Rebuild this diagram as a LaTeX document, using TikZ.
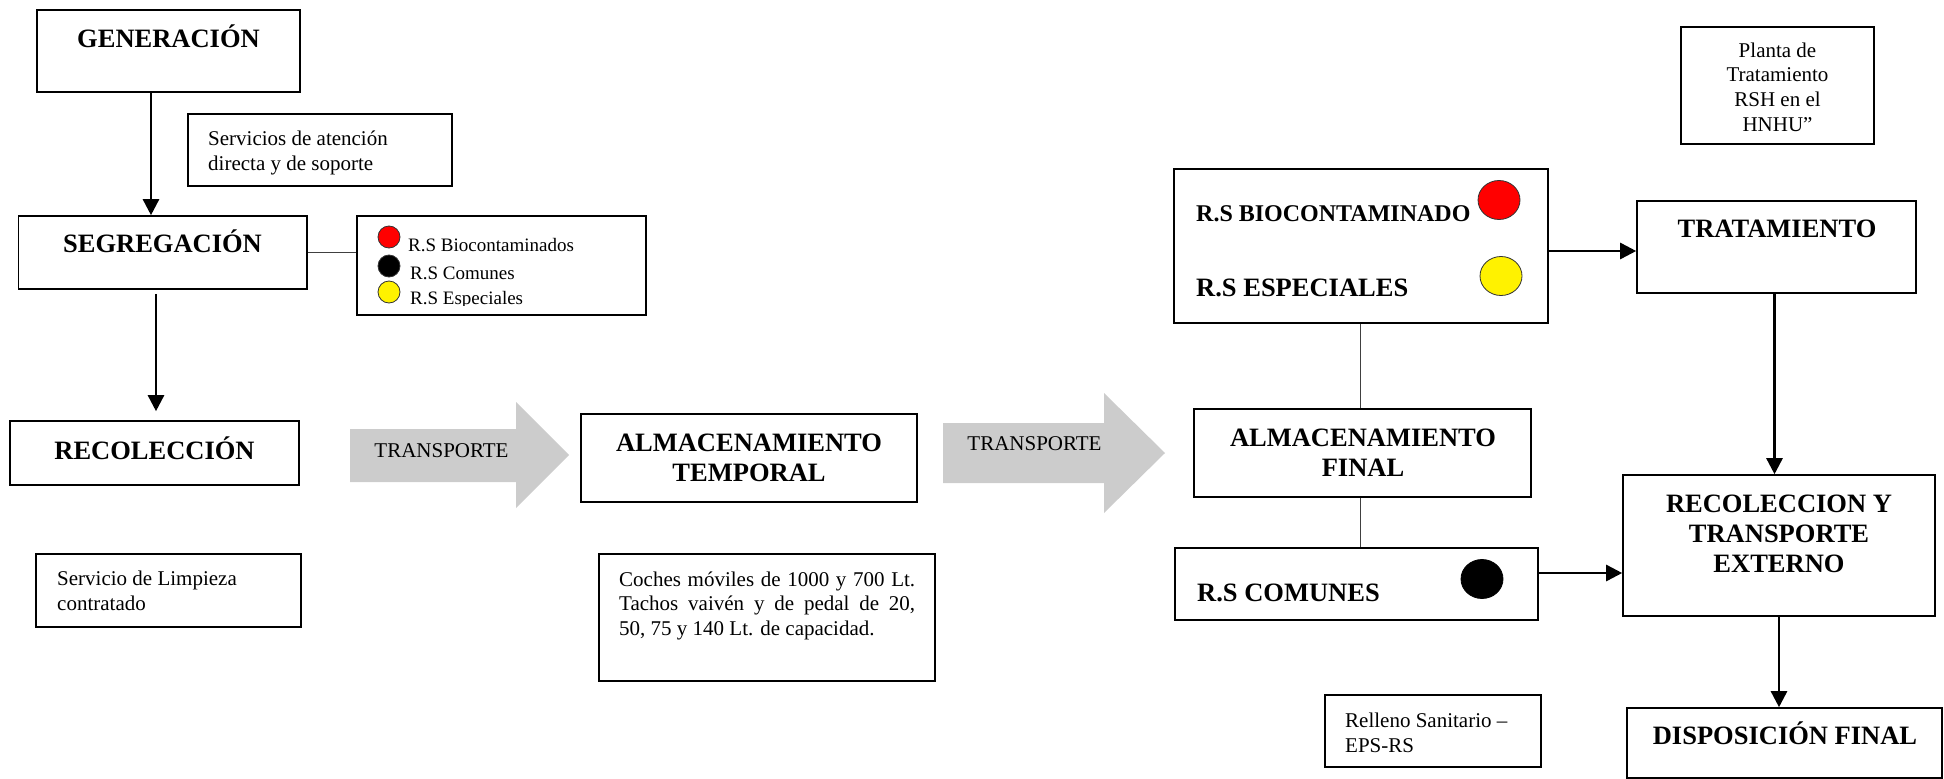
\documentclass[tikz,border=0pt]{standalone}
\usepackage{fontspec}
\setmainfont{Liberation Serif}
\usetikzlibrary{arrows.meta,calc,shapes.geometric}
\newcommand\ftitle{\fontsize{26.5}{30}\selectfont\bfseries}
\newcommand\fbody{\fontsize{21}{25}\selectfont}
\newcommand\flegend{\fontsize{19}{22}\selectfont}
\begin{document}
\begin{tikzpicture}[x=1pt,y=-1pt,
  box/.style={draw, line width=1.6pt, inner sep=0pt, rectangle},
  arr/.style={line width=2.6pt, -{Triangle[width=16pt,length=16pt]}},
  thinline/.style={line width=0.9pt, draw=black!75},
  title/.style={font=\ftitle, inner sep=0pt, anchor=base},
  titlel/.style={font=\ftitle, inner sep=0pt, anchor=base west},
  body/.style={font=\fbody, inner sep=0pt, anchor=base west},
  legtext/.style={font=\flegend, inner sep=0pt, anchor=base west},
  ship/.style={fill=black!20, draw=none},
  dot/.style={circle, draw=black!80, line width=0.8pt, inner sep=0pt, minimum size=22pt},
  bigdot/.style={ellipse, draw=black!80, line width=0.8pt, inner sep=0pt, minimum width=42pt, minimum height=39pt}]
\useasboundingbox (0,0) rectangle (1944,779);

% ---------- boxes ----------
\node[box, minimum width=263pt, minimum height=82pt] (gen) at (168.5,51) {};
\node[box, minimum width=264pt, minimum height=72pt] (serv) at (320,150) {};
\node[box, minimum width=288.5pt, minimum height=73pt] (seg) at (162.75,252.5) {};
\node[box, minimum width=289pt, minimum height=99pt] (leg) at (501.5,265.5) {};
\node[box, minimum width=289pt, minimum height=64pt] (rec) at (154.5,453) {};
\node[box, minimum width=265pt, minimum height=73pt] (limp) at (168.5,590.5) {};
\node[box, minimum width=336pt, minimum height=88pt] (almT) at (749,458) {};
\node[box, minimum width=336pt, minimum height=127pt] (coch) at (767,617.5) {};
\node[box, minimum width=374pt, minimum height=154pt] (bio) at (1361,246) {};
\node[box, minimum width=193pt, minimum height=117pt] (planta) at (1777.5,85.5) {};
\node[box, minimum width=279pt, minimum height=92pt] (trat) at (1776.5,247) {};
\node[box, minimum width=337pt, minimum height=88pt] (almF) at (1362.5,453) {};
\node[box, minimum width=363pt, minimum height=72pt] (com) at (1356.5,584) {};
\node[box, minimum width=312pt, minimum height=141pt] (recY) at (1779,545.5) {};
\node[box, minimum width=315pt, minimum height=70pt] (disp) at (1784.5,743) {};
\node[box, minimum width=216pt, minimum height=72pt] (rell) at (1433,731) {};

% ---------- titles ----------
\node[title] at (168.5,47) {GENERACIÓN};
\node[title] at (162.5,252) {SEGREGACIÓN};
\node[title] at (154.5,459) {RECOLECCIÓN};
\node[title] at (749,451) {\begin{tabular}[t]{@{}c@{}}ALMACENAMIENTO\\TEMPORAL\end{tabular}};
\node[titlel, font=\fontsize{24}{28}\selectfont\bfseries] at (1196,221) {R.S BIOCONTAMINADO};
\node[titlel] at (1196,296) {R.S ESPECIALES};
\node[title] at (1777,237) {TRATAMIENTO};
\node[title] at (1363,446) {\begin{tabular}[t]{@{}c@{}}ALMACENAMIENTO\\FINAL\end{tabular}};
\node[titlel] at (1197,601) {R.S COMUNES};
\node[title] at (1779,512) {\begin{tabular}[t]{@{}c@{}}RECOLECCION Y\\TRANSPORTE\\EXTERNO\end{tabular}};
\node[title] at (1785,744) {DISPOSICIÓN FINAL};

% ---------- body texts ----------
\node[body] at (208,145) {\begin{tabular}[t]{@{}l@{}}Servicios de atención\\directa y de soporte\end{tabular}};
\node[body] at (57,585) {\begin{tabular}[t]{@{}l@{}}Servicio de Limpieza\\contratado\end{tabular}};
\node[body] at (619,586) {\parbox[t]{296pt}{\fontsize{21}{24.5}\selectfont Coches móviles de 1000 y 700 Lt.\linebreak Tachos vaivén y de pedal de 20,\linebreak 50, 75 y 140 Lt. de capacidad.}};
\node[body, anchor=base] at (1777.5,57) {\fontsize{21}{24.7}\selectfont\begin{tabular}[t]{@{}c@{}}Planta de\\Tratamiento\\RSH en el\\HNHU”\end{tabular}};
\node[body] at (1345,727) {\begin{tabular}[t]{@{}l@{}}Relleno Sanitario –\\EPS-RS\end{tabular}};

% ---------- legend ----------
\node[dot, fill=red] (lred) at (389,237) {};
\node[dot, fill=black] (lblack) at (389,266) {};
\node[dot, fill=yellow] (lyel) at (389,292) {};
\begin{scope}
\clip (357,216) rectangle (646,305);
\node[legtext] at (408,251) {R.S Biocontaminados};
\node[legtext] at (410,279) {R.S Comunes};
\node[legtext] at (410,304) {R.S Especiales};
\end{scope}

% ---------- coloured markers ----------
\node[bigdot, fill=red] (bred) at (1499,200) {};
\node[bigdot, fill=yellow] (byel) at (1501,276) {};
\node[bigdot, fill=black, draw=black] (bblack) at (1482,579) {};

% ---------- transport arrows ----------
\path[ship] (350,429) -- (516,429) -- (516,402) -- (569,455) -- (516,508) -- (516,482) -- (350,482) -- cycle;
\node[body, anchor=base] (t1) at (441.5,457) {TRANSPORTE};
\path[ship] (943,423) -- (1104,423) -- (1104,393) -- (1165,453) -- (1104,513) -- (1104,483) -- (943,483) -- cycle;
\node[body, anchor=base] (t2) at (1034.5,450) {TRANSPORTE};

% ---------- connectors ----------
\coordinate (g1) at ([xshift=-17.5pt]gen.south);
\draw[arr] (g1) -- (g1 |- seg.north);
\coordinate (s1) at ([xshift=-6.75pt]seg.south);
\draw[arr, shorten <=4pt] (s1) -- ([yshift=9pt]s1 |- rec.north);
\draw[thinline] (seg.east) -- (seg.east -| leg.west);

\coordinate (b1) at ([yshift=-5pt]bio.east);
\draw[arr] (b1) -- (b1 -| trat.west);
\coordinate (b2) at ([xshift=-1pt]bio.south);
\draw[thinline] (b2) -- (b2 |- almF.north);
\coordinate (a2) at ([xshift=-2.5pt]almF.south);
\draw[thinline] (a2) -- (a2 |- com.north);
\coordinate (c1) at ([yshift=11pt]com.east);
\draw[arr] (c1) -- (c1 -| recY.west);
\coordinate (tr1) at ([xshift=-2pt]trat.south);
\draw[arr] (tr1) -- (tr1 |- recY.north);
\draw[arr] (recY.south) -- (recY.south |- disp.north);
\end{tikzpicture}
\end{document}
